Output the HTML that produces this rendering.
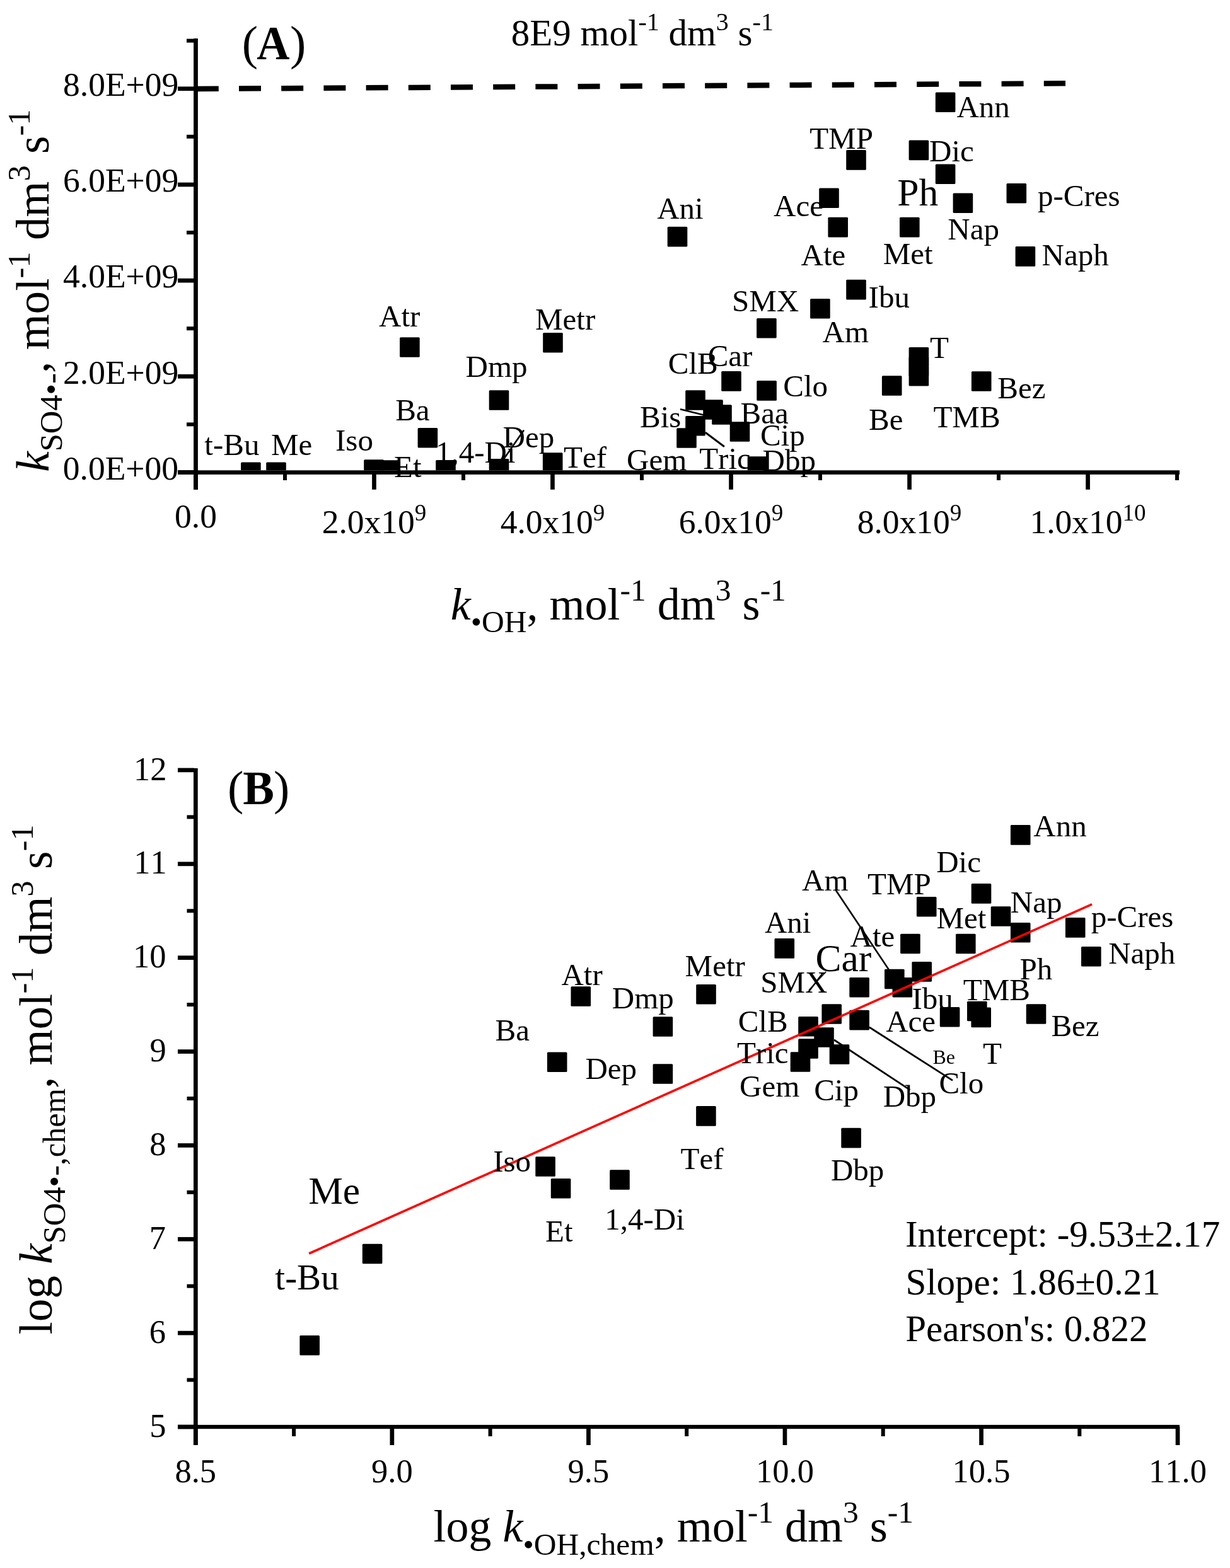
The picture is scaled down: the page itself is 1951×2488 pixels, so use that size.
<!DOCTYPE html>
<html><head><meta charset="utf-8"><style>
html,body{margin:0;padding:0;background:#fff;width:1951px;height:2488px;}
svg{display:block;}
text{font-family:"Liberation Serif","Times New Roman",serif;font-kerning:none;fill:#000;}
</style></head><body>
<svg width="1951" height="2488" viewBox="0 0 1951 2488">
<rect width="100%" height="100%" fill="#fff"/>
<defs><clipPath id="ca"><rect x="314" y="0" width="1700" height="746.3"/></clipPath></defs>
<line x1="311.8" y1="141.0" x2="1690.0" y2="132.3" stroke="#000" stroke-width="8.5" stroke-dasharray="35 32.2"/>
<rect x="307.1" y="61.0" width="6.8" height="716.0" fill="#000"/>
<rect x="282.0" y="746.3" width="1589.0" height="6.6" fill="#000"/>
<rect x="282.0" y="746.1" width="26.0" height="6.7" fill="#000"/>
<rect x="296.0" y="670.4" width="12.0" height="6.0" fill="#000"/>
<rect x="282.0" y="593.9" width="26.0" height="6.7" fill="#000"/>
<rect x="296.0" y="518.2" width="12.0" height="6.0" fill="#000"/>
<rect x="282.0" y="441.8" width="26.0" height="6.7" fill="#000"/>
<rect x="296.0" y="366.0" width="12.0" height="6.0" fill="#000"/>
<rect x="282.0" y="289.6" width="26.0" height="6.7" fill="#000"/>
<rect x="296.0" y="213.8" width="12.0" height="6.0" fill="#000"/>
<rect x="282.0" y="137.4" width="26.0" height="6.7" fill="#000"/>
<rect x="296.0" y="61.6" width="12.0" height="6.0" fill="#000"/>
<rect x="307.1" y="750.0" width="6.7" height="26.8" fill="#000"/>
<rect x="449.0" y="750.0" width="6.0" height="12.0" fill="#000"/>
<rect x="590.1" y="750.0" width="6.7" height="26.8" fill="#000"/>
<rect x="732.0" y="750.0" width="6.0" height="12.0" fill="#000"/>
<rect x="873.1" y="750.0" width="6.7" height="26.8" fill="#000"/>
<rect x="1015.0" y="750.0" width="6.0" height="12.0" fill="#000"/>
<rect x="1156.2" y="750.0" width="6.7" height="26.8" fill="#000"/>
<rect x="1298.0" y="750.0" width="6.0" height="12.0" fill="#000"/>
<rect x="1439.2" y="750.0" width="6.7" height="26.8" fill="#000"/>
<rect x="1581.0" y="750.0" width="6.0" height="12.0" fill="#000"/>
<rect x="1722.2" y="750.0" width="6.7" height="26.8" fill="#000"/>
<rect x="1864.0" y="750.0" width="6.0" height="12.0" fill="#000"/>
<text x="99.8" y="760.7" font-size="53.5">0.0E+00</text>
<text x="100.0" y="608.5" font-size="53.5">2.0E+09</text>
<text x="100.0" y="456.3" font-size="53.5">4.0E+09</text>
<text x="100.0" y="304.1" font-size="53.5">6.0E+09</text>
<text x="100.0" y="151.9" font-size="53.5">8.0E+09</text>
<text x="310.5" y="836.6" font-size="53.5" text-anchor="middle">0.0</text>
<text x="510.7" y="845.5" font-size="53.5">2.0x10<tspan font-size="37.0" dy="-19.5">9</tspan></text>
<text x="793.7" y="845.5" font-size="53.5">4.0x10<tspan font-size="37.0" dy="-19.5">9</tspan></text>
<text x="1076.7" y="845.5" font-size="53.5">6.0x10<tspan font-size="37.0" dy="-19.5">9</tspan></text>
<text x="1359.7" y="845.5" font-size="53.5">8.0x10<tspan font-size="37.0" dy="-19.5">9</tspan></text>
<text x="1633.4" y="845.5" font-size="53.5">1.0x10<tspan font-size="37.0" dy="-19.5">10</tspan></text>
<text x="383.7" y="93.7" font-size="76.0">(</text>
<text x="0" y="0" font-size="77" font-weight="bold" transform="translate(407.29 93.7) scale(0.940 1)">A</text>
<text x="460.0" y="93.7" font-size="76.0">)</text>
<text x="810.8" y="71.7" font-size="59.0">8E9 mol<tspan font-size="40" dy="-24">-1</tspan><tspan dy="24"> dm</tspan><tspan font-size="40" dy="-24">3</tspan><tspan dy="24"> s</tspan><tspan font-size="40" dy="-24">-1</tspan></text>
<rect x="382.1" y="733.6" width="31.6" height="31.6" rx="1.5" fill="#000" clip-path="url(#ca)"/>
<rect x="422.2" y="733.6" width="31.6" height="31.6" rx="1.5" fill="#000" clip-path="url(#ca)"/>
<rect x="577.2" y="729.2" width="31.6" height="31.6" rx="1.5" fill="#000" clip-path="url(#ca)"/>
<rect x="600.2" y="730.2" width="31.6" height="31.6" rx="1.5" fill="#000" clip-path="url(#ca)"/>
<rect x="691.2" y="729.9" width="31.6" height="31.6" rx="1.5" fill="#000" clip-path="url(#ca)"/>
<rect x="775.7" y="727.9" width="31.6" height="31.6" rx="1.5" fill="#000" clip-path="url(#ca)"/>
<rect x="860.9" y="718.2" width="31.6" height="31.6" rx="1.5" fill="#000" clip-path="url(#ca)"/>
<rect x="662.6" y="679.0" width="31.6" height="31.6" rx="1.5" fill="#000" clip-path="url(#ca)"/>
<rect x="634.1" y="535.2" width="31.6" height="31.6" rx="1.5" fill="#000" clip-path="url(#ca)"/>
<rect x="775.7" y="619.2" width="31.6" height="31.6" rx="1.5" fill="#000" clip-path="url(#ca)"/>
<rect x="861.2" y="527.9" width="31.6" height="31.6" rx="1.5" fill="#000" clip-path="url(#ca)"/>
<rect x="1058.7" y="359.8" width="31.6" height="31.6" rx="1.5" fill="#000" clip-path="url(#ca)"/>
<rect x="1200.1" y="505.0" width="31.6" height="31.6" rx="1.5" fill="#000" clip-path="url(#ca)"/>
<rect x="1087.2" y="619.2" width="31.6" height="31.6" rx="1.5" fill="#000" clip-path="url(#ca)"/>
<rect x="1115.2" y="634.2" width="31.6" height="31.6" rx="1.5" fill="#000" clip-path="url(#ca)"/>
<rect x="1129.2" y="642.2" width="31.6" height="31.6" rx="1.5" fill="#000" clip-path="url(#ca)"/>
<rect x="1157.7" y="669.2" width="31.6" height="31.6" rx="1.5" fill="#000" clip-path="url(#ca)"/>
<rect x="1087.2" y="660.0" width="31.6" height="31.6" rx="1.5" fill="#000" clip-path="url(#ca)"/>
<rect x="1073.2" y="679.2" width="31.6" height="31.6" rx="1.5" fill="#000" clip-path="url(#ca)"/>
<rect x="1144.2" y="589.1" width="31.6" height="31.6" rx="1.5" fill="#000" clip-path="url(#ca)"/>
<rect x="1200.3" y="604.1" width="31.6" height="31.6" rx="1.5" fill="#000" clip-path="url(#ca)"/>
<rect x="1185.7" y="724.2" width="31.6" height="31.6" rx="1.5" fill="#000" clip-path="url(#ca)"/>
<rect x="1342.2" y="238.1" width="31.6" height="31.6" rx="1.5" fill="#000" clip-path="url(#ca)"/>
<rect x="1441.6" y="222.6" width="31.6" height="31.6" rx="1.5" fill="#000" clip-path="url(#ca)"/>
<rect x="1483.8" y="146.5" width="31.6" height="31.6" rx="1.5" fill="#000" clip-path="url(#ca)"/>
<rect x="1483.8" y="260.5" width="31.6" height="31.6" rx="1.5" fill="#000" clip-path="url(#ca)"/>
<rect x="1511.6" y="306.4" width="31.6" height="31.6" rx="1.5" fill="#000" clip-path="url(#ca)"/>
<rect x="1596.5" y="291.0" width="31.6" height="31.6" rx="1.5" fill="#000" clip-path="url(#ca)"/>
<rect x="1299.2" y="298.5" width="31.6" height="31.6" rx="1.5" fill="#000" clip-path="url(#ca)"/>
<rect x="1313.4" y="344.8" width="31.6" height="31.6" rx="1.5" fill="#000" clip-path="url(#ca)"/>
<rect x="1427.0" y="344.8" width="31.6" height="31.6" rx="1.5" fill="#000" clip-path="url(#ca)"/>
<rect x="1610.6" y="391.1" width="31.6" height="31.6" rx="1.5" fill="#000" clip-path="url(#ca)"/>
<rect x="1342.2" y="443.8" width="31.6" height="31.6" rx="1.5" fill="#000" clip-path="url(#ca)"/>
<rect x="1285.1" y="474.0" width="31.6" height="31.6" rx="1.5" fill="#000" clip-path="url(#ca)"/>
<rect x="1441.6" y="550.9" width="31.6" height="31.6" rx="1.5" fill="#000" clip-path="url(#ca)"/>
<rect x="1441.6" y="565.9" width="31.6" height="31.6" rx="1.5" fill="#000" clip-path="url(#ca)"/>
<rect x="1441.6" y="581.0" width="31.6" height="31.6" rx="1.5" fill="#000" clip-path="url(#ca)"/>
<rect x="1398.9" y="596.2" width="31.6" height="31.6" rx="1.5" fill="#000" clip-path="url(#ca)"/>
<rect x="1540.9" y="589.2" width="31.6" height="31.6" rx="1.5" fill="#000" clip-path="url(#ca)"/>
<line x1="1079.0" y1="649.2" x2="1116.1" y2="658.4" stroke="#000" stroke-width="2.6"/>
<line x1="1118.9" y1="686.2" x2="1148.9" y2="708.8" stroke="#000" stroke-width="3.0"/>
<line x1="831.0" y1="682.5" x2="799.3" y2="728.0" stroke="#000" stroke-width="2.6"/>
<text x="324.3" y="721.5" font-size="49.0">t-Bu</text>
<text x="430.0" y="721.5" font-size="49.0">Me</text>
<text x="532.0" y="715.3" font-size="49.0">Iso</text>
<text x="625.1" y="757.2" font-size="49.0">Et</text>
<text x="691.0" y="734.3" font-size="49.0">1,4-Di</text>
<text x="797.5" y="709.8" font-size="49.0">Dep</text>
<text x="894.1" y="741.8" font-size="49.0">Tef</text>
<text x="627.2" y="666.8" font-size="49.0">Ba</text>
<text x="601.1" y="517.9" font-size="49.0">Atr</text>
<text x="738.6" y="597.5" font-size="49.0">Dmp</text>
<text x="849.0" y="522.8" font-size="49.0">Metr</text>
<text x="1042.2" y="347.2" font-size="49.0">Ani</text>
<text x="1160.9" y="493.5" font-size="49.0">SMX</text>
<text x="1059.8" y="593.1" font-size="49.0">ClB</text>
<text x="1122.7" y="580.5" font-size="49.0">Car</text>
<text x="1015.0" y="678.0" font-size="49.0">Bis</text>
<text x="1174.6" y="672.1" font-size="49.0">Baa</text>
<text x="1242.3" y="629.4" font-size="49.0">Clo</text>
<text x="1205.9" y="706.7" font-size="49.0">Cip</text>
<text x="994.0" y="746.3" font-size="49.0">Gem</text>
<text x="1109.2" y="743.8" font-size="49.0">Tric</text>
<text x="1209.6" y="746.8" font-size="49.0">Dbp</text>
<text x="1284.2" y="236.4" font-size="49.0">TMP</text>
<text x="1517.4" y="186.1" font-size="49.0">Ann</text>
<text x="1474.0" y="255.8" font-size="49.0">Dic</text>
<text x="1645.9" y="326.7" font-size="49.0">p-Cres</text>
<text x="1503.3" y="380.0" font-size="49.0">Nap</text>
<text x="1270.6" y="421.2" font-size="49.0">Ate</text>
<text x="1400.8" y="418.9" font-size="49.0">Met</text>
<text x="1652.6" y="420.9" font-size="49.0">Naph</text>
<text x="1377.6" y="488.3" font-size="49.0">Ibu</text>
<text x="1304.5" y="542.7" font-size="49.0">Am</text>
<text x="1475.1" y="567.6" font-size="49.0">T</text>
<text x="1582.3" y="631.7" font-size="49.0">Bez</text>
<text x="1378.0" y="682.4" font-size="49.0">Be</text>
<text x="1480.4" y="678.0" font-size="49.0">TMB</text>
<text x="1227.0" y="343.0" font-size="49.0">Ace</text>
<text x="1423.2" y="325.9" font-size="61.5">Ph</text>
<text x="714.8" y="982.6" font-size="72.0"><tspan font-style="italic">k</tspan><tspan font-size="49.5" dy="20.5">&#8226;OH</tspan><tspan dy="-20.5">, mol</tspan><tspan font-size="49.5" dy="-30">-1</tspan><tspan dy="30"> dm</tspan><tspan font-size="49.5" dy="-30">3</tspan><tspan dy="30"> s</tspan><tspan font-size="49.5" dy="-30">-1</tspan></text>
<g transform="translate(76.8 748.7) rotate(-90)"><text x="0" y="0" font-size="73.2"><tspan font-style="italic">k</tspan><tspan font-size="50.5" dy="21">SO4&#8226;-</tspan><tspan dy="-21">, mol</tspan><tspan font-size="50.5" dy="-30">-1</tspan><tspan dy="30"> dm</tspan><tspan font-size="50.5" dy="-30">3</tspan><tspan dy="30"> s</tspan><tspan font-size="50.5" dy="-30">-1</tspan></text></g>
<rect x="307.0" y="1219.0" width="6.7" height="1074.0" fill="#000"/>
<rect x="282.0" y="2260.9" width="1589.0" height="6.3" fill="#000"/>
<rect x="282.0" y="2260.7" width="26.0" height="6.7" fill="#000"/>
<rect x="296.5" y="2186.6" width="11.5" height="6.0" fill="#000"/>
<rect x="282.0" y="2111.8" width="26.0" height="6.7" fill="#000"/>
<rect x="296.5" y="2037.7" width="11.5" height="6.0" fill="#000"/>
<rect x="282.0" y="1962.9" width="26.0" height="6.7" fill="#000"/>
<rect x="296.5" y="1888.8" width="11.5" height="6.0" fill="#000"/>
<rect x="282.0" y="1814.1" width="26.0" height="6.7" fill="#000"/>
<rect x="296.5" y="1740.0" width="11.5" height="6.0" fill="#000"/>
<rect x="282.0" y="1665.2" width="26.0" height="6.7" fill="#000"/>
<rect x="296.5" y="1591.1" width="11.5" height="6.0" fill="#000"/>
<rect x="282.0" y="1516.3" width="26.0" height="6.7" fill="#000"/>
<rect x="296.5" y="1442.3" width="11.5" height="6.0" fill="#000"/>
<rect x="282.0" y="1367.5" width="26.0" height="6.7" fill="#000"/>
<rect x="296.5" y="1293.4" width="11.5" height="6.0" fill="#000"/>
<rect x="282.0" y="1218.6" width="26.0" height="6.7" fill="#000"/>
<rect x="306.9" y="2264.0" width="6.7" height="29.0" fill="#000"/>
<rect x="463.1" y="2264.0" width="6.0" height="15.0" fill="#000"/>
<rect x="618.5" y="2264.0" width="6.7" height="29.0" fill="#000"/>
<rect x="774.6" y="2264.0" width="6.0" height="15.0" fill="#000"/>
<rect x="930.1" y="2264.0" width="6.7" height="29.0" fill="#000"/>
<rect x="1086.2" y="2264.0" width="6.0" height="15.0" fill="#000"/>
<rect x="1241.6" y="2264.0" width="6.7" height="29.0" fill="#000"/>
<rect x="1397.7" y="2264.0" width="6.0" height="15.0" fill="#000"/>
<rect x="1553.2" y="2264.0" width="6.7" height="29.0" fill="#000"/>
<rect x="1709.3" y="2264.0" width="6.0" height="15.0" fill="#000"/>
<rect x="1864.7" y="2264.0" width="6.7" height="29.0" fill="#000"/>
<text x="237.3" y="2279.5" font-size="52.5">5</text>
<text x="236.8" y="2130.6" font-size="52.5">6</text>
<text x="236.8" y="1981.8" font-size="52.5">7</text>
<text x="237.2" y="1832.9" font-size="52.5">8</text>
<text x="237.4" y="1684.1" font-size="52.5">9</text>
<text x="211.0" y="1535.2" font-size="52.5">10</text>
<text x="212.2" y="1386.3" font-size="52.5">11</text>
<text x="211.9" y="1237.5" font-size="52.5">12</text>
<text x="310.3" y="2351.5" font-size="52.5" text-anchor="middle">8.5</text>
<text x="621.9" y="2351.5" font-size="52.5" text-anchor="middle">9.0</text>
<text x="933.4" y="2351.5" font-size="52.5" text-anchor="middle">9.5</text>
<text x="1245.0" y="2351.5" font-size="52.5" text-anchor="middle">10.0</text>
<text x="1556.5" y="2351.5" font-size="52.5" text-anchor="middle">10.5</text>
<text x="1868.0" y="2351.5" font-size="52.5" text-anchor="middle">11.0</text>
<text x="361.1" y="1275.9" font-size="76.0">(</text>
<text x="0" y="0" font-size="76" font-weight="bold" transform="translate(385.36 1275.9) scale(0.98 1)">B</text>
<text x="434.1" y="1275.9" font-size="76.0">)</text>
<rect x="1602.9" y="1309.1" width="31.6" height="31.6" rx="1.5" fill="#000"/>
<rect x="1540.7" y="1402.1" width="31.6" height="31.6" rx="1.5" fill="#000"/>
<rect x="1453.9" y="1422.9" width="31.6" height="31.6" rx="1.5" fill="#000"/>
<rect x="1571.7" y="1438.2" width="31.6" height="31.6" rx="1.5" fill="#000"/>
<rect x="1602.9" y="1463.9" width="31.6" height="31.6" rx="1.5" fill="#000"/>
<rect x="1689.9" y="1456.1" width="31.6" height="31.6" rx="1.5" fill="#000"/>
<rect x="1715.0" y="1501.9" width="31.6" height="31.6" rx="1.5" fill="#000"/>
<rect x="1428.1" y="1481.7" width="31.6" height="31.6" rx="1.5" fill="#000"/>
<rect x="1516.0" y="1481.7" width="31.6" height="31.6" rx="1.5" fill="#000"/>
<rect x="1446.4" y="1526.1" width="31.6" height="31.6" rx="1.5" fill="#000"/>
<rect x="1403.0" y="1537.7" width="31.6" height="31.6" rx="1.5" fill="#000"/>
<rect x="1415.5" y="1550.9" width="31.6" height="31.6" rx="1.5" fill="#000"/>
<rect x="1347.3" y="1550.9" width="31.6" height="31.6" rx="1.5" fill="#000"/>
<rect x="1347.3" y="1602.8" width="31.6" height="31.6" rx="1.5" fill="#000"/>
<rect x="1490.8" y="1598.0" width="31.6" height="31.6" rx="1.5" fill="#000"/>
<rect x="1534.0" y="1588.7" width="31.6" height="31.6" rx="1.5" fill="#000"/>
<rect x="1540.4" y="1598.6" width="31.6" height="31.6" rx="1.5" fill="#000"/>
<rect x="1627.7" y="1593.2" width="31.6" height="31.6" rx="1.5" fill="#000"/>
<rect x="1228.5" y="1489.1" width="31.6" height="31.6" rx="1.5" fill="#000"/>
<rect x="1104.2" y="1562.0" width="31.6" height="31.6" rx="1.5" fill="#000"/>
<rect x="1035.6" y="1613.2" width="31.6" height="31.6" rx="1.5" fill="#000"/>
<rect x="1035.6" y="1688.2" width="31.6" height="31.6" rx="1.5" fill="#000"/>
<rect x="905.5" y="1565.2" width="31.6" height="31.6" rx="1.5" fill="#000"/>
<rect x="867.9" y="1669.4" width="31.6" height="31.6" rx="1.5" fill="#000"/>
<rect x="1104.1" y="1755.1" width="31.6" height="31.6" rx="1.5" fill="#000"/>
<rect x="849.3" y="1835.2" width="31.6" height="31.6" rx="1.5" fill="#000"/>
<rect x="873.8" y="1870.0" width="31.6" height="31.6" rx="1.5" fill="#000"/>
<rect x="967.2" y="1856.2" width="31.6" height="31.6" rx="1.5" fill="#000"/>
<rect x="574.8" y="1973.7" width="31.6" height="31.6" rx="1.5" fill="#000"/>
<rect x="475.4" y="2119.0" width="31.6" height="31.6" rx="1.5" fill="#000"/>
<rect x="1303.4" y="1593.2" width="31.6" height="31.6" rx="1.5" fill="#000"/>
<rect x="1266.2" y="1613.0" width="31.6" height="31.6" rx="1.5" fill="#000"/>
<rect x="1291.2" y="1630.2" width="31.6" height="31.6" rx="1.5" fill="#000"/>
<rect x="1266.2" y="1648.2" width="31.6" height="31.6" rx="1.5" fill="#000"/>
<rect x="1253.7" y="1669.2" width="31.6" height="31.6" rx="1.5" fill="#000"/>
<rect x="1315.7" y="1657.2" width="31.6" height="31.6" rx="1.5" fill="#000"/>
<rect x="1334.3" y="1789.8" width="31.6" height="31.6" rx="1.5" fill="#000"/>
<line x1="490.2" y1="1989.0" x2="1732.0" y2="1434.8" stroke="#ff0000" stroke-width="3.6"/>
<line x1="1325.4" y1="1412.0" x2="1409.7" y2="1538.4" stroke="#000" stroke-width="2.6"/>
<line x1="1282.9" y1="1571.3" x2="1310.3" y2="1541.8" stroke="#000" stroke-width="1.6"/>
<line x1="1323.0" y1="1650.0" x2="1443.4" y2="1729.3" stroke="#000" stroke-width="2.8"/>
<line x1="1379.0" y1="1630.0" x2="1511.0" y2="1714.4" stroke="#000" stroke-width="2.8"/>
<text x="1639.3" y="1327.1" font-size="49.0">Ann</text>
<text x="1485.2" y="1383.5" font-size="49.0">Dic</text>
<text x="1376.1" y="1419.2" font-size="49.0">TMP</text>
<text x="1272.1" y="1412.8" font-size="49.0">Am</text>
<text x="1602.8" y="1447.6" font-size="49.0">Nap</text>
<text x="1485.5" y="1473.0" font-size="49.0">Met</text>
<text x="1730.8" y="1470.5" font-size="49.0">p-Cres</text>
<text x="1212.9" y="1480.0" font-size="49.0">Ani</text>
<text x="1348.6" y="1501.8" font-size="49.0">Ate</text>
<text x="1758.2" y="1529.3" font-size="49.0">Naph</text>
<text x="1086.6" y="1548.8" font-size="49.0">Metr</text>
<text x="1617.5" y="1553.5" font-size="49.0">Ph</text>
<text x="1206.3" y="1574.8" font-size="49.0">SMX</text>
<text x="890.4" y="1563.4" font-size="49.0">Atr</text>
<text x="970.8" y="1600.2" font-size="49.0">Dmp</text>
<text x="1527.8" y="1587.3" font-size="49.0">TMB</text>
<text x="1446.4" y="1601.3" font-size="49.0">Ibu</text>
<text x="1170.7" y="1637.1" font-size="49.0">ClB</text>
<text x="1405.2" y="1637.4" font-size="49.0">Ace</text>
<text x="1667.4" y="1643.7" font-size="49.0">Bez</text>
<text x="785.5" y="1650.6" font-size="49.0">Ba</text>
<text x="1168.9" y="1687.0" font-size="49.0">Tric</text>
<text x="1559.1" y="1688.0" font-size="49.0">T</text>
<text x="928.4" y="1712.1" font-size="49.0">Dep</text>
<text x="1173.1" y="1740.3" font-size="49.0">Gem</text>
<text x="1489.4" y="1735.4" font-size="49.0">Clo</text>
<text x="1291.2" y="1745.9" font-size="49.0">Cip</text>
<text x="1400.7" y="1755.6" font-size="49.0">Dbp</text>
<text x="1079.5" y="1854.8" font-size="49.0">Tef</text>
<text x="782.2" y="1858.5" font-size="49.0">Iso</text>
<text x="865.0" y="1970.4" font-size="49.0">Et</text>
<text x="959.2" y="1951.1" font-size="49.0">1,4-Di</text>
<text x="1317.9" y="1873.1" font-size="49.0">Dbp</text>
<text x="1293.5" y="1540.7" font-size="61.5">Car</text>
<text x="489.2" y="1910.2" font-size="61.5">Me</text>
<text x="436.3" y="2046.2" font-size="57.0">t-Bu</text>
<text x="1479.4" y="1688.2" font-size="32.0">Be</text>
<text x="1435.9" y="1978.4" font-size="59.0">Intercept: -9.53±2.17</text>
<text x="1436.4" y="2054.2" font-size="59.0">Slope: 1.86±0.21</text>
<text x="1436.3" y="2128.4" font-size="59.0">Pearson's: 0.822</text>
<text x="687.4" y="2446.4" font-size="72.0">log <tspan font-style="italic">k</tspan><tspan font-size="49.5" dy="20.5">&#8226;OH,chem</tspan><tspan dy="-20.5">, mol</tspan><tspan font-size="49.5" dy="-30">-1</tspan><tspan dy="30"> dm</tspan><tspan font-size="49.5" dy="-30">3</tspan><tspan dy="30"> s</tspan><tspan font-size="49.5" dy="-30">-1</tspan></text>
<g transform="translate(82 2117.6) rotate(-90)"><text x="0" y="0" font-size="73.2">log <tspan font-style="italic">k</tspan><tspan font-size="50.5" dy="21">SO4&#8226;-,chem</tspan><tspan dy="-21">, mol</tspan><tspan font-size="50.5" dy="-30">-1</tspan><tspan dy="30"> dm</tspan><tspan font-size="50.5" dy="-30">3</tspan><tspan dy="30"> s</tspan><tspan font-size="50.5" dy="-30">-1</tspan></text></g>
</svg>
</body></html>
